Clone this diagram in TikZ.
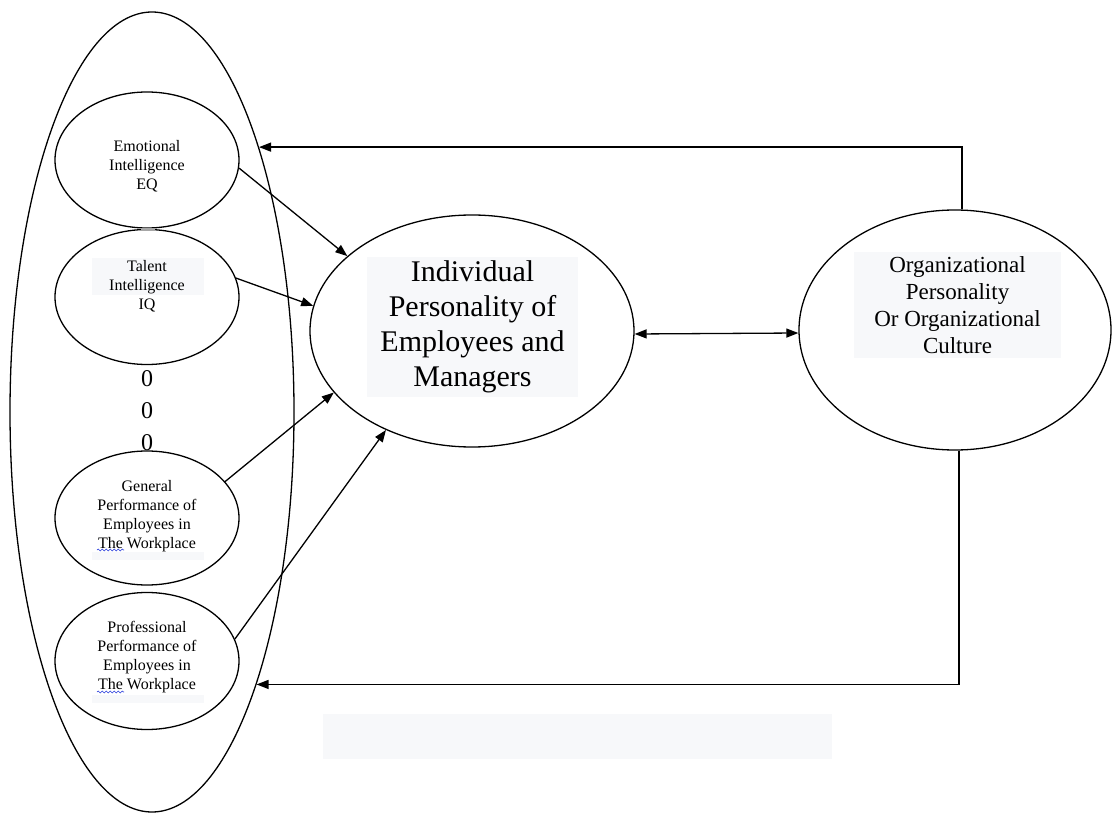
\documentclass[tikz,border=0pt]{standalone}
\usepackage{fontspec}
\setmainfont{Liberation Serif}
\usetikzlibrary{arrows.meta,shapes.geometric,decorations.pathmorphing}
\definecolor{hlgray}{RGB}{247,248,250}
\definecolor{spellblue}{RGB}{40,60,220}
\tikzset{
  bubble/.style={draw,ellipse,inner sep=0pt},
  smalltext/.style={font=\fontsize{16}{19}\selectfont,align=center,inner sep=0pt},
  spell/.style={spellblue,line width=0.6pt,decorate,decoration={snake,amplitude=0.9pt,segment length=4pt}}
}

\begin{document}
\begin{tikzpicture}[x=1pt,y=-1pt,line width=1.3pt,>={Triangle[length=12pt,width=9pt]}]
	\useasboundingbox (0,0) rectangle (1112,813);

	% faint highlight boxes
	\fill[hlgray] (323,714) rectangle (832,759);
	\fill[hlgray] (92,258) rectangle (204,295);
	\fill[hlgray] (92,552) rectangle (204,560);
	\fill[hlgray] (92,695) rectangle (204,703);

	\node[bubble,minimum width=284pt,minimum height=800pt] (outer) at (152,412) {};
	\node[bubble,minimum width=184pt,minimum height=136pt] (eq) at (147,160) {};
	\node[bubble,minimum width=184pt,minimum height=135pt] (iq) at (147,297) {};
	\node[bubble,minimum width=184pt,minimum height=134pt] (gen) at (147,518) {};
	\node[bubble,minimum width=184pt,minimum height=137pt] (prof) at (147,661) {};
	\node[bubble,minimum width=324pt,minimum height=232pt] (indiv) at (472,331) {};
	\node[bubble,minimum width=312pt,minimum height=240pt] (org) at (955,330) {};
	\fill[gray!70] (141,228) rectangle (155,231);

	\node[smalltext] (eqtext) at (147,166) {Emotional\\Intelligence\\EQ};
	\node[smalltext] (iqtext) at (147,286) {Talent\\Intelligence\\IQ};
	\node[smalltext] (gentext) at (147,516) {General\\Performance of\\Employees in\\The Workplace};
	\node[smalltext] (proftext) at (147,657) {Professional\\Performance of\\Employees in\\The Workplace};
	\node[font=\fontsize{24}{32}\selectfont,align=center,inner sep=0pt] (dots) at (147,411) {0\\0\\0};
	\node[font=\fontsize{30}{35}\selectfont,align=center,inner sep=0pt,fill=hlgray,
		minimum width=211pt,minimum height=140pt] (indivtext) at (472.5,327)
		{Individual\\Personality of\\Employees and\\Managers};
	\node[font=\fontsize{23}{27}\selectfont,align=center,inner sep=0pt,fill=hlgray,
		minimum width=207pt,minimum height=106pt] (orgtext) at (957.5,305)
		{Organizational\\Personality\\Or Organizational\\Culture};

	\draw[spell] (97,550) -- (124,550);
	\draw[spell] (97,692) -- (124,692);

	% arrows into the individual personality
	\draw[->] (eq.-5) -- (indiv.149.8);
	\draw[->] (iq.12.8) -- (indiv.171.6);
	\draw[->] (gen.25) -- (indiv.204);
	\draw[->] (prof.14.6) -- (indiv.229.7);

	\draw[<->] ([yshift=-3pt]indiv.east) -- ([yshift=-3pt]org.west);

	% feedback back to the outer group
	\draw[->] ([xshift=7pt]org.north) |- (outer.68.7);
	\draw[->] ([xshift=4pt]org.south) |- (outer.-69.1);
\end{tikzpicture}
\end{document}
